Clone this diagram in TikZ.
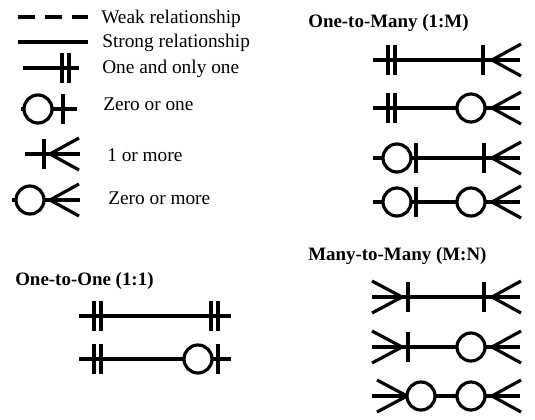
\documentclass[tikz,border=0pt]{standalone}
\usepackage{fontspec}
\setmainfont{Liberation Serif}
\usepackage{tikz}

% end marks, x and y in pixels of the sheet
\newcommand{\onebar}[2]{\draw[endmark] (#1,#2-15) -- (#1,#2+15);}
\newcommand{\onlyone}[2]{\onebar{#1}{#2}\onebar{#1+7}{#2}}
\newcommand{\ring}[2]{\draw[endmark,fill=white] (#1,#2) circle[radius=14];}
\newcommand{\crowR}[2]{\draw[endmark] (#1+29,#2-16) -- (#1,#2) -- (#1+29,#2+16);}
\newcommand{\crowL}[2]{\draw[endmark] (#1-30,#2-16) -- (#1,#2) -- (#1-30,#2+16);}

\begin{document}
\begin{tikzpicture}[x=0.75pt,y=-0.75pt,line join=round]
 \tikzstyle{rel}=[line width=2.4pt]
 \tikzstyle{endmark}=[line width=2.4pt]
 \tikzstyle{legend}=[anchor=base west,inner sep=0pt,font=\fontsize{14.5}{16}\selectfont]
 \tikzstyle{heading}=[anchor=base west,inner sep=0pt,font=\bfseries\fontsize{14.2}{16}\selectfont]

 \useasboundingbox (0,0) rectangle (535,419);

 % legend
 \node[legend] (weak) at (101,23) {Weak relationship};
 \node[legend] (strong) at (102,47) {Strong relationship};
 \node[legend] (only) at (102,73) {One and only one};
 \node[legend] (zeroone) at (103,110) {Zero or one};
 \node[legend] (onemore) at (107,161) {1 or more};
 \node[legend] (zeromore) at (108,204) {Zero or more};

 \coordinate (weakA) at (18,17);   \coordinate (weakB) at (88,17);
 \coordinate (strongA) at (18,42); \coordinate (strongB) at (88,42);
 \coordinate (onlyA) at (23,68);   \coordinate (onlyB) at (79,68);
 \coordinate (zoA) at (21,109);    \coordinate (zoB) at (77,109);
 \coordinate (omA) at (25,154);    \coordinate (omB) at (80,154);
 \coordinate (zmA) at (12,200);    \coordinate (zmB) at (80,200);

 \draw[rel,dash pattern=on 12.75pt off 7.5pt] (weakA) -- (weakB);
 \draw[rel] (strongA) -- (strongB);
 \draw[rel] (onlyA) -- (onlyB); \onlyone{62}{68}
 \draw[rel] (zoA) -- (zoB); \ring{38}{109} \onebar{63}{109}
 \draw[rel] (omA) -- (omB); \onebar{44}{154} \crowR{50}{154}
 \draw[rel] (zmA) -- (zmB); \ring{30}{200} \crowR{50}{200}

 % one-to-many
 \node[heading] (onetomany) at (308,27) {One-to-Many (1:M)};
 \coordinate (m1A) at (373,60);  \coordinate (m1B) at (520,60);
 \coordinate (m2A) at (373,108); \coordinate (m2B) at (520,108);
 \coordinate (m3A) at (373,158); \coordinate (m3B) at (520,158);
 \coordinate (m4A) at (373,202); \coordinate (m4B) at (520,202);

 \draw[rel] (m1A) -- (m1B); \onlyone{388}{60} \onebar{483}{60} \crowR{492}{60}
 \draw[rel] (m2A) -- (m2B); \onlyone{388}{108} \ring{471}{108} \crowR{492}{108}
 \draw[rel] (m3A) -- (m3B); \ring{397}{158} \onebar{416}{158} \onebar{484}{158} \crowR{492}{158}
 \draw[rel] (m4A) -- (m4B); \ring{397}{202} \onebar{416}{202} \ring{471}{202} \crowR{492}{202}

 % one-to-one
 \node[heading] (onetoone) at (15,285) {One-to-One (1:1)};
 \coordinate (o1A) at (79,316); \coordinate (o1B) at (231,316);
 \coordinate (o2A) at (79,359); \coordinate (o2B) at (231,359);

 \draw[rel] (o1A) -- (o1B); \onlyone{94}{316} \onlyone{211}{316}
 \draw[rel] (o2A) -- (o2B); \onlyone{94}{359} \ring{198}{359} \onebar{218}{359}

 % many-to-many
 \node[heading] (manytomany) at (308,260) {Many-to-Many (M:N)};
 \coordinate (n1A) at (372,297); \coordinate (n1B) at (520,297);
 \coordinate (n2A) at (372,347); \coordinate (n2B) at (520,347);
 \coordinate (n3A) at (372,396); \coordinate (n3B) at (520,396);

 \draw[rel] (n1A) -- (n1B); \crowL{402}{297} \onebar{408}{297} \onebar{484}{297} \crowR{492}{297}
 \draw[rel] (n2A) -- (n2B); \crowL{402}{347} \onebar{408}{347} \ring{471}{347} \crowR{492}{347}
 \draw[rel] (n3A) -- (n3B); \crowL{407}{396} \ring{421}{396} \ring{471}{396} \crowR{492}{396}

\end{tikzpicture}
\end{document}
